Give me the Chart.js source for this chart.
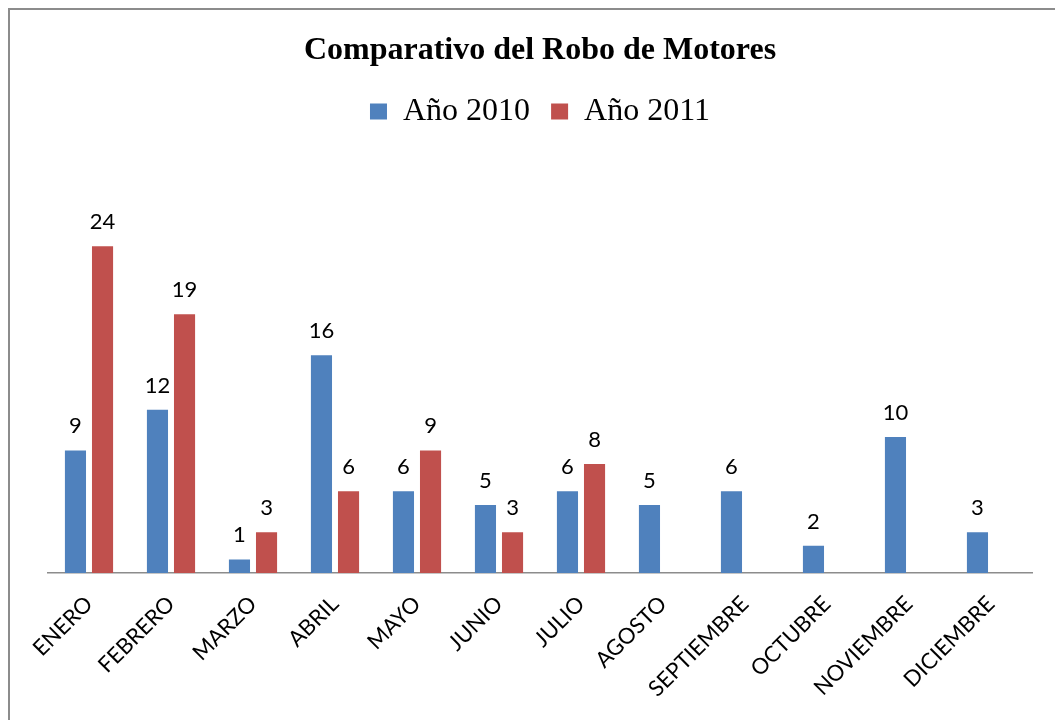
<!DOCTYPE html>
<html>
<head>
<meta charset="utf-8">
<script src="https://cdn.jsdelivr.net/npm/chart.js@4/dist/chart.umd.min.js"></script>
<style>
  html, body { margin: 0; padding: 0; background: #fff; }
</style>
</head>
<body>
<canvas id="chart" width="1055" height="720"></canvas>
<script>
var meses = ['ENERO','FEBRERO','MARZO','ABRIL','MAYO','JUNIO','JULIO','AGOSTO','SEPTIEMBRE','OCTUBRE','NOVIEMBRE','DICIEMBRE'];
var robos2010 = [9, 12, 1, 16, 6, 5, 6, 5, 6, 2, 10, 3];
var robos2011 = [24, 19, 3, 6, 9, 3, 8, null, null, null, null, null];

// marco gris y fondo blanco
var marco = {
  id: 'marco',
  beforeDraw: function (chart) {
    var ctx = chart.ctx;
    ctx.save();
    ctx.fillStyle = '#fff';
    ctx.fillRect(0, 0, chart.width, chart.height);
    ctx.strokeStyle = '#8c8c8c';
    ctx.lineWidth = 2;
    ctx.strokeRect(9, 9, chart.width + 20, chart.height + 20);
    ctx.restore();
  }
};

// etiquetas de valor sobre cada barra
var etiquetas = {
  id: 'etiquetas',
  afterDatasetsDraw: function (chart) {
    var ctx = chart.ctx;
    ctx.save();
    ctx.font = '22px Lato';
    ctx.fillStyle = '#000';
    ctx.textAlign = 'center';
    ctx.textBaseline = 'alphabetic';
    chart.data.datasets.forEach(function (ds, i) {
      chart.getDatasetMeta(i).data.forEach(function (bar, j) {
        var v = ds.data[j];
        if (v === null || v === undefined) return;
        ctx.fillText(String(v), bar.x, bar.y - 17);
      });
    });
    ctx.restore();
  }
};

new Chart(document.getElementById('chart'), {
  type: 'bar',
  data: {
    labels: meses,
    datasets: [
      { label: 'Año 2010', data: robos2010, backgroundColor: '#4f81bd',
        categoryPercentage: 0.66, barPercentage: 0.78 },
      { label: 'Año 2011', data: robos2011, backgroundColor: '#c0504d',
        categoryPercentage: 0.66, barPercentage: 0.78 }
    ]
  },
  options: {
    responsive: false,
    animation: false,
    layout: { padding: { left: 48, right: 23, top: 0, bottom: 0 } },
    plugins: {
      title: {
        display: true,
        text: 'Comparativo del Robo de Motores',
        color: '#000',
        font: { family: 'Liberation Serif', size: 32, weight: 'bold' },
        padding: { top: 32, bottom: 4 }
      },
      legend: {
        display: true,
        labels: {
          color: '#000',
          font: { family: 'Liberation Serif', size: 32 },
          boxWidth: 17, boxHeight: 16,
          padding: 21
        }
      },
      tooltip: { enabled: false }
    },
    scales: {
      x: {
        grid: { display: false },
        border: { display: true, color: '#8c8c8c', width: 1.5 },
        ticks: {
          color: '#000',
          font: { family: 'Lato', size: 22 },
          minRotation: 45, maxRotation: 45,
          padding: 10
        },
        afterFit: function (s) { s.height = 147; }
      },
      y: {
        display: false,
        min: 0, max: 32
      }
    }
  },
  plugins: [marco, etiquetas]
});
</script>
</body>
</html>
